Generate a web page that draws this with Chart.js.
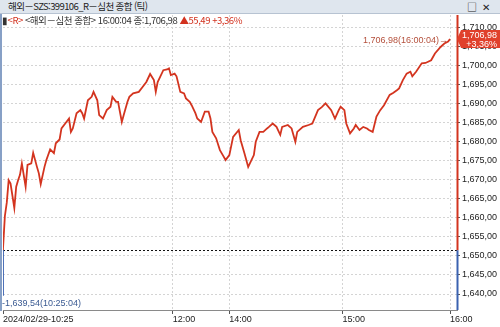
<!DOCTYPE html>
<html lang="ko">
<head>
<meta charset="UTF-8">
<title>해외－심천 종합 (틱)</title>
<script src="https://cdn.jsdelivr.net/npm/chart.js"></script>
<style>
    html, body { margin: 0; padding: 0; background: #fff; }
    body { width: 500px; height: 327px; position: relative; overflow: hidden; font-family: "Noto Sans CJK KR", "Liberation Sans", sans-serif; }
    .titlebar { position: absolute; left: 0; top: 0; width: 500px; height: 13px; background: #dfe6ee; border-bottom: 1px solid #b7c3d2; font-size: 9.5px; line-height: 13px; color: #222; }
    .titlebar .name { position: absolute; left: 8px; top: 0; letter-spacing: -0.6px; }
    .titlebar .btns { position: absolute; right: 5px; top: 0; font-size: 10px; letter-spacing: 5px; }
    .legend { position: absolute; left: 2px; top: 14px; font-size: 9.5px; line-height: 12px; letter-spacing: -0.45px; color: #333; white-space: nowrap; z-index: 2; }
    .red { color: #d2321f; }
    .wrap { position: absolute; left: 0; top: 14px; width: 500px; height: 313px; }
    .frame { position: absolute; left: 0; top: 14px; width: 2px; height: 297px; background: #87a0c6; z-index: 1; }
</style>
</head>
<body>
    <div class="titlebar">
        <span class="name">해외－SZS:399106_R－심천 종합 (틱)</span>
        <span class="btns">□✕</span>
    </div>
    <div class="legend">▮<span class="red">&lt;R&gt;</span> &lt;해외－심천 종합&gt; 16:00:04 종:1,706,98 <span class="red">▲55,49 +3,36%</span></div>
    <div class="frame"></div>
    <div class="wrap"><canvas id="chart"></canvas></div>

<script>
    // tick data (KST), 2024/02/29
    const times = ['10:25','10:30','10:31','10:32','10:33','10:34','10:36','10:37','10:38','10:39','10:40','10:42','10:43','10:45','10:46','10:48','10:49','10:50','10:52','10:53','10:55','10:57','10:58','11:00','11:01','11:03','11:05','11:06','11:07','11:09','11:11','11:12','11:13','11:15','11:17','11:18','11:20','11:21','11:23','11:25','11:27','11:28','11:30','11:31','11:33','11:34','11:36','11:37','11:39','11:42','11:44','11:46','11:48','11:50','11:51','11:52','11:55','11:57','11:58','11:59','12:01','12:02','12:04','12:06','12:07','12:09','12:10','12:12','12:13','12:15','12:17','12:19','12:20','12:21','12:23','12:25','12:27','12:28','14:00','14:02','14:05','14:06','14:08','14:10','14:13','14:14','14:16','14:18','14:20','14:21','14:23','14:25','14:27','14:28','14:31','14:33','14:35','14:36','14:39','14:42','14:44','14:47','14:49','14:51','14:54','14:56','14:58','14:59','15:01','15:02','15:04','15:06','15:07','15:09','15:11','15:13','15:14','15:16','15:18','15:20','15:22','15:25','15:27','15:29','15:30','15:32','15:34','15:36','15:37','15:39','15:42','15:44','15:47','15:49','15:52','15:54','15:56','16:00'];
    const prices = [1639.54,1652.0,1660.5,1664.0,1669.9,1669.0,1662.6,1668.2,1669.9,1671.3,1674.3,1668.2,1673.9,1674.3,1677.1,1673.4,1671.7,1668.9,1673.4,1675.2,1678.0,1677.0,1679.6,1680.6,1683.5,1684.8,1686.1,1682.6,1683.5,1687.5,1688.3,1687.5,1686.1,1690.9,1691.8,1693.1,1690.9,1687.0,1686.1,1688.3,1689.2,1691.8,1690.5,1690.5,1685.2,1687.0,1690.5,1691.8,1692.7,1693.1,1694.4,1695.7,1697.8,1696.2,1693.1,1695.7,1698.8,1699.0,1699.3,1697.5,1697.9,1697.2,1693.1,1692.7,1691.4,1690.5,1689.6,1687.5,1686.1,1685.2,1687.9,1687.9,1686.1,1682.6,1680.9,1677.8,1676.1,1675.2,1676.5,1681.3,1683.1,1680.4,1677.0,1673.4,1676.5,1680.0,1682.6,1682.6,1683.5,1683.9,1684.8,1683.9,1681.8,1683.9,1684.4,1683.5,1680.0,1682.6,1683.9,1684.4,1684.8,1688.3,1689.1,1690.1,1688.3,1686.1,1688.3,1689.2,1688.3,1684.8,1682.2,1683.5,1684.4,1683.1,1683.9,1683.5,1683.1,1682.6,1686.6,1688.3,1689.6,1692.3,1692.9,1693.6,1694.0,1696.2,1697.9,1698.4,1697.2,1698.4,1700.6,1700.7,1701.4,1703.2,1704.9,1705.8,1706.3,1706.98];

    const prevClose = 1651.49;
    const lastPrice = 1706.98, lastTime = '16:00:04', lastChange = '+3,36%';
    const lowPrice = 1639.54, lowTime = '10:25:04';

    const tickTimes = ['10:25', '12:00', '14:00', '15:00', '16:00'];
    const tickLabels = ['2024/02/29-10:25', '12:00', '14:00', '15:00', '16:00'];

    const RED = '#d3341f';
    const BLUE = '#3b62b0';

    // minutes of continuous trading (lunch break and closing call removed)
    function tradeMin(t) {
        const [h, m] = t.split(':').map(Number);
        const c = h * 60 + m;
        if (c <= 12 * 60 + 30) return Math.max(0, c - (10 * 60 + 30));
        return 120 + Math.min(c, 15 * 60 + 57) - 14 * 60;
    }

    // 1706.98 -> "1,706,98"
    function fmt(v) {
        const [a, b] = v.toFixed(2).split('.');
        return a.replace(/\B(?=(\d{3})+(?!\d))/g, ',') + ',' + b;
    }

    const points = times.map((t, i) => ({ x: tradeMin(t), y: prices[i] }));

    const overlay = {
        id: 'overlay',
        beforeDatasetsDraw(chart) {
            const { ctx, chartArea: a, scales: { y } } = chart;
            const py = Math.round(y.getPixelForValue(prevClose)) + 0.5;
            ctx.save();
            ctx.strokeStyle = '#111';
            ctx.lineWidth = 1;
            ctx.setLineDash([2, 2]);
            ctx.beginPath();
            ctx.moveTo(a.left, py);
            ctx.lineTo(a.right, py);
            ctx.stroke();
            ctx.restore();
        },
        afterDraw(chart) {
            const { ctx, chartArea: a, scales: { x, y } } = chart;
            const py = y.getPixelForValue(prevClose);
            const ax = a.right + 0.5;
            ctx.save();
            // right axis: red above previous close, blue below
            ctx.lineWidth = 2;
            ctx.strokeStyle = RED;
            ctx.beginPath(); ctx.moveTo(ax, a.top); ctx.lineTo(ax, py); ctx.stroke();
            ctx.strokeStyle = BLUE;
            ctx.beginPath(); ctx.moveTo(ax, py); ctx.lineTo(ax, a.bottom); ctx.stroke();

            // last price badge
            const ly = y.getPixelForValue(lastPrice);
            ctx.fillStyle = '#e0402b';
            ctx.beginPath();
            ctx.moveTo(a.right, ly);
            ctx.lineTo(a.right + 4, ly - 9);
            ctx.lineTo(chart.width, ly - 9);
            ctx.lineTo(chart.width, ly + 9);
            ctx.lineTo(a.right + 4, ly + 9);
            ctx.closePath();
            ctx.fill();
            ctx.fillStyle = '#fff';
            ctx.font = '9px "Liberation Sans", sans-serif';
            ctx.textAlign = 'right';
            ctx.textBaseline = 'middle';
            ctx.fillText(fmt(lastPrice), chart.width - 3, ly - 4);
            ctx.fillText(lastChange, chart.width - 3, ly + 5);

            // last price note
            const lx = x.getPixelForValue(tradeMin('16:00'));
            ctx.fillStyle = '#b4503c';
            ctx.fillText(fmt(lastPrice) + '(' + lastTime + ')→', lx - 2, ly + 1);

            // low price note
            const lowY = y.getPixelForValue(lowPrice);
            ctx.fillStyle = '#3a5a92';
            ctx.textAlign = 'left';
            ctx.textBaseline = 'top';
            ctx.fillText('-' + fmt(lowPrice) + '(' + lowTime + ')', 2, lowY + 3);
            ctx.restore();
        }
    };

    new Chart(document.getElementById('chart'), {
        type: 'line',
        data: {
            datasets: [{
                data: points,
                borderWidth: 1.8,
                pointRadius: 0,
                tension: 0,
                borderColor: ctx => {
                    const { chart } = ctx;
                    const a = chart.chartArea;
                    if (!a) return RED;
                    const f = Math.min(1, Math.max(0, (chart.scales.y.getPixelForValue(prevClose) - a.top) / (a.bottom - a.top)));
                    const g = chart.ctx.createLinearGradient(0, a.top, 0, a.bottom);
                    g.addColorStop(0, RED);
                    g.addColorStop(f, RED);
                    g.addColorStop(f, BLUE);
                    g.addColorStop(1, BLUE);
                    return g;
                }
            }]
        },
        options: {
            responsive: true,
            maintainAspectRatio: false,
            animation: false,
            layout: { padding: { top: 1, left: 3, right: 0, bottom: 0 } },
            plugins: { legend: { display: false }, tooltip: { enabled: false } },
            scales: {
                x: {
                    type: 'linear',
                    min: 0,
                    max: 240.7,
                    afterBuildTicks: s => { s.ticks = tickTimes.map(t => ({ value: tradeMin(t) })); },
                    afterFit: s => { s.height = 17; s.paddingLeft = 0; s.paddingRight = 0; },
                    ticks: {
                        autoSkip: false,
                        maxRotation: 0,
                        align: 'start',
                        padding: 0,
                        color: '#222',
                        font: { family: '"Liberation Sans", sans-serif', size: 9 },
                        callback: (v, i) => tickLabels[i]
                    },
                    grid: {
                        color: c => c.index === 0 ? 'rgba(0,0,0,0)' : '#d4d4d4',
                        tickColor: '#555',
                        tickLength: 4
                    },
                    border: { display: true, color: '#8a8a8a', dash: [2, 2] }
                },
                y: {
                    position: 'right',
                    min: 1635.8,
                    max: 1713.3,
                    afterFit: s => { s.width = 43; s.paddingTop = 0; s.paddingBottom = 0; },
                    ticks: {
                        stepSize: 5,
                        includeBounds: false,
                        autoSkip: false,
                        padding: 2,
                        color: '#222',
                        font: { family: '"Liberation Sans", sans-serif', size: 9 },
                        callback: v => fmt(v)
                    },
                    grid: {
                        color: '#d4d4d4',
                        tickColor: '#555',
                        tickLength: 3
                    },
                    border: { display: false, dash: [2, 2] }
                }
            }
        },
        plugins: [overlay]
    });
</script>
</body>
</html>
